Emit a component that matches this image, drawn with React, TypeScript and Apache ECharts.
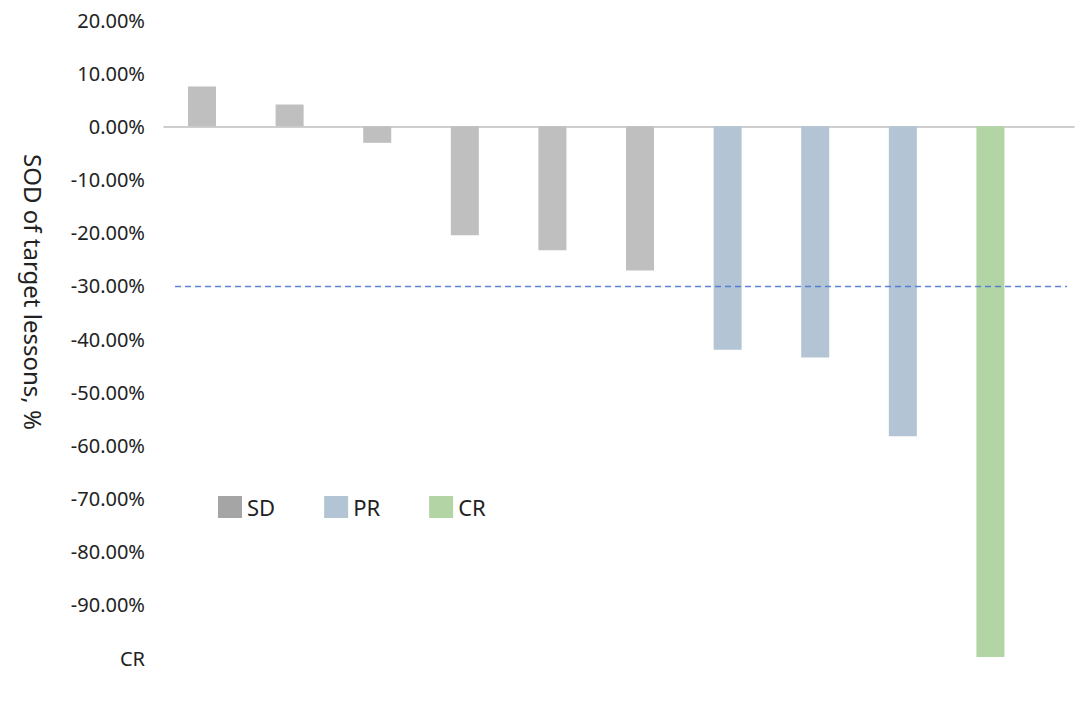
import React, { useEffect, useRef } from "react";
import * as echarts from "echarts";

const sdX = [1, 2, 3, 4, 5, 6];
const sdValues = [7.5, 4.1, -3.1, -20.5, -23.3, -27.1];
const prX = [7, 8, 9];
const prValues = [-42.0, -43.5, -58.3];
const crX = [10];
const crValues = [-99.8];
const thresholdValue = -30;
const yTicks = [20, 10, 0, -10, -20, -30, -40, -50, -60, -70, -80, -90, -100];
const bottomTickLabel = "CR";
const yAxisTitle = "SOD of target lessons, %";

export default function App() {
  const ref = useRef<HTMLDivElement>(null);
  useEffect(() => {
    if (!ref.current) return;
    document.body.style.margin = "0";
    const chart = echarts.init(ref.current, null, { renderer: "svg" });
    const font = "'Noto Sans', sans-serif";
    const pairs = (xs: number[], vs: number[]) => xs.map((x, i) => [x, vs[i]]);
    const xMin = 0.566;
    const xMax = 10.954;
    chart.setOption({
      animation: false,
      backgroundColor: "#ffffff",
      grid: { left: 164, right: 6, top: 20, height: 638, containLabel: false },
      legend: {
        left: 213,
        top: 491,
        icon: "rect",
        itemWidth: 24,
        itemHeight: 22,
        itemGap: 49,
        textStyle: { fontSize: 22, color: "#222", fontFamily: font },
        data: [
          { name: "SD", itemStyle: { color: "#A5A5A5" } },
          { name: "PR", itemStyle: { color: "#B3C4D4" } },
          { name: "CR", itemStyle: { color: "#B3D4A5" } },
        ],
      },
      xAxis: {
        type: "value",
        min: xMin,
        max: xMax,
        axisLine: { show: true, onZero: true, lineStyle: { color: "#BFBFBF", width: 1.5 } },
        axisTick: { show: false },
        axisLabel: { show: false },
        splitLine: { show: false },
      },
      yAxis: {
        type: "value",
        min: yTicks[yTicks.length - 1],
        max: yTicks[0],
        interval: 10,
        axisLine: { show: false },
        axisTick: { show: false },
        splitLine: { show: false },
        axisLabel: {
          margin: 19,
          fontSize: 20,
          color: "#222",
          fontFamily: font,
          formatter: (v: number) =>
            v === yTicks[yTicks.length - 1] ? bottomTickLabel : v.toFixed(2) + "%",
        },
      },
      graphic: [
        {
          type: "text",
          x: 33,
          y: 292,
          rotation: -Math.PI / 2,
          style: {
            text: yAxisTitle,
            fontSize: 24,
            fill: "#222",
            fontFamily: font,
            align: "center",
            verticalAlign: "middle",
          },
        },
      ],
      series: [
        {
          name: "SD",
          type: "bar",
          stack: "all",
          barWidth: 28,
          itemStyle: { color: "#BFBFBF" },
          data: pairs(sdX, sdValues),
          markLine: {
            silent: true,
            symbol: "none",
            label: { show: false },
            lineStyle: { color: "#4A76D4", type: [6, 4], width: 1.4, opacity: 0.9 },
            data: [[{ coord: [0.692, thresholdValue] }, { coord: [10.874, thresholdValue] }]],
            z: 10,
          },
        },
        {
          name: "PR",
          type: "bar",
          stack: "all",
          barWidth: 28,
          itemStyle: { color: "#B3C4D4" },
          data: pairs(prX, prValues),
        },
        {
          name: "CR",
          type: "bar",
          stack: "all",
          barWidth: 28,
          itemStyle: { color: "#B3D4A5" },
          data: pairs(crX, crValues),
        },
      ],
    });
    return () => chart.dispose();
  }, []);
  return (
    <div
      ref={ref}
      style={{ position: "fixed", left: 0, top: 0, width: 1080, height: 717 }}
    />
  );
}
